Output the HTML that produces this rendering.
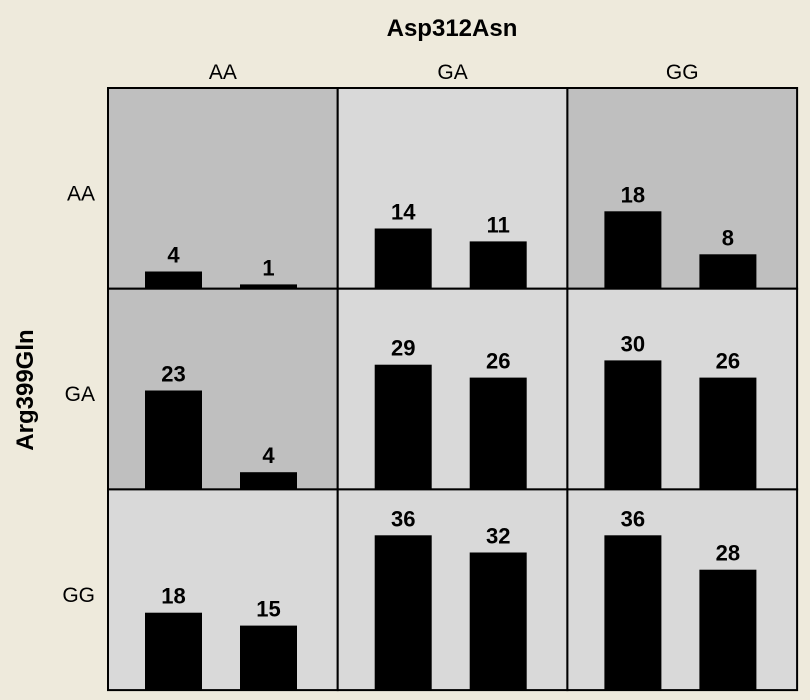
<!DOCTYPE html>
<html><head><meta charset="utf-8"><style>
body{margin:0;background:#eeeadc;}
svg{display:block;font-family:"Liberation Sans",Arial,sans-serif;}
</style></head><body>
<svg id="chart" width="810" height="700">
<rect width="810" height="700" fill="#eeeadc"/>
<text x="452" y="36" text-anchor="middle" font-size="24" font-weight="bold">Asp312Asn</text>
<text transform="translate(33,390) rotate(-90)" text-anchor="middle" font-size="24" font-weight="bold">Arg399Gln</text>
<g id="g"></g>
</svg>
<script>
const colCats = ["AA","GA","GG"];
const rowCats = ["AA","GA","GG"];
// values[row][col] = [bar1, bar2]
const bar1 = [[4,14,18],[23,29,30],[18,36,36]];
const bar2 = [[1,11,8],[4,26,26],[15,32,28]];
const shade = [["d","l","d"],["d","l","l"],["l","l","l"]];

const X0=108, CW=229.7, Y0=88, RH=200.7, K=4.3;
const ns="http://www.w3.org/2000/svg";
const g=document.getElementById('g');
function mk(t,a){const e=document.createElementNS(ns,t);for(const k in a)e.setAttribute(k,a[k]);g.appendChild(e);return e;}
const xCell=c=>X0+c*CW, yCell=r=>Y0+r*RH, h=v=>v*K;
for(let r=0;r<3;r++)for(let c=0;c<3;c++){
  const cell=mk('rect',{x:xCell(c),y:yCell(r),width:CW,height:RH,fill:shade[r][c]=="d"?"#bfbfbf":"#d9d9d9",stroke:"#000","stroke-width":2});
  
  
  const base=yCell(r)+RH;
  [[bar1,37],[bar2,132]].forEach(([arr,off],i)=>{
    const v=arr[r][c];
    const b=mk('rect',{x:xCell(c)+off,y:base-h(v),width:57,height:h(v),fill:"#000"});
    
    
    const t=mk('text',{x:xCell(c)+off+28.5,y:base-h(v)-9,"text-anchor":"middle","font-size":22,"font-weight":"bold"});
    t.textContent=v;
    
    
  });
}
colCats.forEach((s,c)=>{const t=mk('text',{x:xCell(c)+CW/2,y:79,"text-anchor":"middle","font-size":21});t.textContent=s;

});
rowCats.forEach((s,r)=>{const t=mk('text',{x:95,y:yCell(r)+RH/2+12,"text-anchor":"end","font-size":21});t.textContent=s;

});
</script>
</body></html>
